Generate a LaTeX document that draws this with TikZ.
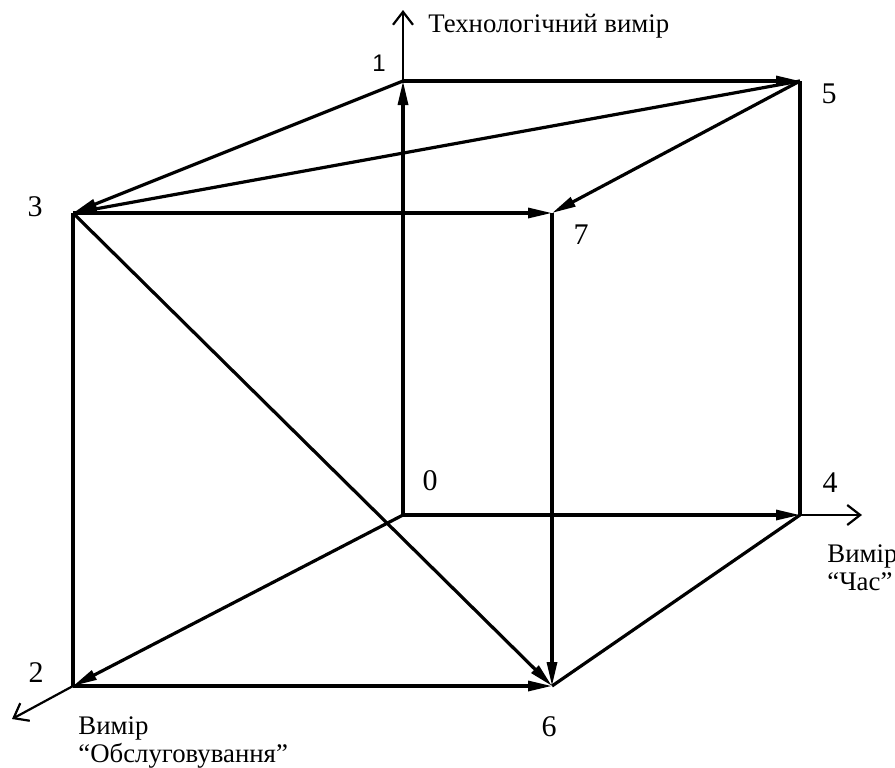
\documentclass[tikz,border=0pt]{standalone}
\usepackage{fontspec}
\setmainfont{Liberation Serif}
\setsansfont{Liberation Sans}
\usetikzlibrary{arrows.meta}
\begin{document}
\begin{tikzpicture}[x=0.5pt,y=-0.5pt,
  edge/.style={line width=1.6pt,line join=miter},
  tip/.style={edge,-{Triangle[length=12pt,width=5pt]}},
  axis/.style={line width=1.1pt,-{Straight Barb[length=6.5pt,width=10pt,line width=1.1pt]}},
  num/.style={font=\fontsize{15}{18}\selectfont,inner sep=0pt},
  dimlabel/.style={font=\fontsize{13.4}{14}\selectfont,inner sep=0pt,align=left}]
\useasboundingbox (0,0) rectangle (895,767);
% cube corners
\coordinate (v0) at (403,515);
\coordinate (v1) at (403,81);
\coordinate (v2) at (73,686);
\coordinate (v3) at (73,213);
\coordinate (v4) at (800,515);
\coordinate (v5) at (800,81);
\coordinate (v6) at (552,686);
\coordinate (v7) at (552,213);
% axis ends
\coordinate (ztip) at (403,10);
\coordinate (xtip) at (862,515);
\coordinate (ytip) at (12,719);
% axes
\draw[axis] (v1) -- (ztip);
\draw[axis] (v4) -- (xtip);
\draw[axis] (v2) -- (ytip);
% plain edges
\draw[edge] (v5) -- (v4);
\draw[edge] (v3) -- (v2);
\draw[edge] (v6) -- (v4);
% directed edges
\draw[tip] (v0) -- (v1);
\draw[tip] (v0) -- (v4);
\draw[tip] (v0) -- (v2);
\draw[tip] (v1) -- (v5);
\draw[tip] (v1) -- (v3);
\draw[tip] (v5) -- (v3);
\draw[tip] (v5) -- (v7);
\draw[tip] (v3) -- (v7);
\draw[tip] (v3) -- (v6);
\draw[tip] (v7) -- (v6);
\draw[tip] (v2) -- (v6);
% corner numbers
\node[num] (n0) at (430,481) {0};
\node[num,font=\sffamily\fontsize{12}{14}\selectfont] (n1) at (379,63) {1};
\node[num] (n2) at (36,673) {2};
\node[num] (n3) at (35,207) {3};
\node[num] (n4) at (830,483) {4};
\node[num] (n5) at (829,94) {5};
\node[num] (n6) at (549,727) {6};
\node[num] (n7) at (581,235) {7};
% axis names (base = last line)
\node[dimlabel,anchor=base west] (tz) at (428,32) {Технологічний вимір};
\node[dimlabel,anchor=base west] (tx) at (827,590) {Вимір\\“Час”};
\node[dimlabel,anchor=base west] (ty) at (78,762) {Вимір\\“Обслуговування”};
\end{tikzpicture}
\end{document}
